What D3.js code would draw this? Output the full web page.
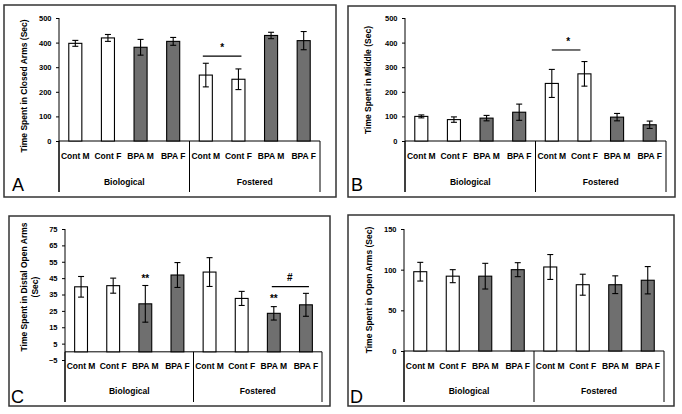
<!DOCTYPE html>
<html><head><meta charset="utf-8">
<script src="https://cdn.jsdelivr.net/npm/d3@7/dist/d3.min.js"></script>
<style>
html,body{margin:0;padding:0;background:#fff;}
svg{display:block;font-family:"Liberation Sans",Arial,sans-serif;}
</style></head>
<body>
<svg id="chart" width="682" height="414"></svg>
<script>
// ---------- data ----------
const categories = ["Cont M","Cont F","BPA M","BPA F","Cont M","Cont F","BPA M","BPA F"];
const groups = ["Biological","Fostered"];
const treatment = ["Cont","Cont","BPA","BPA","Cont","Cont","BPA","BPA"];

const closedArms    = [397, 419, 381, 405, 268, 251, 429, 408];
const closedArmsErr = [12, 14, 32, 16, 48, 42, 13, 37];
const closedTicks   = [0, 100, 200, 300, 400, 500];

const middle    = [100, 87, 93, 117, 234, 273, 97, 66];
const middleErr = [6, 11, 11, 33, 57, 50, 15, 15];
const middleTicks = [0, 100, 200, 300, 400, 500];

const distalOpen    = [39.7, 40.4, 29.3, 46.9, 48.7, 32.6, 23.5, 28.7];
const distalOpenErr = [6.3, 4.6, 11.2, 7.6, 8.8, 4.3, 4.1, 7.0];
const distalTicks   = [-5, 5, 15, 25, 35, 45, 55, 65, 75];

const openArms    = [97.5, 92, 92, 100, 103.3, 81.5, 81.5, 87];
const openArmsErr = [11.5, 8, 15.8, 8.6, 15.3, 12.9, 10.9, 16.8];
const openTicks   = [0, 50, 100, 150];

// ---------- drawing ----------
const svg = d3.select("#chart");

function panel(cfg) {
  const g = svg.append("g");
  g.append("rect").attr("x", cfg.box[0]).attr("y", cfg.box[1])
    .attr("width", cfg.box[2] - cfg.box[0]).attr("height", cfg.box[3] - cfg.box[1])
    .attr("fill", "none").attr("stroke", "#333").attr("stroke-width", 1.5);

  const x = d3.scaleBand().domain(d3.range(categories.length))
    .range([cfg.ax, cfg.right]).paddingInner(0.6).paddingOuter(0.3);
  const y = d3.scaleLinear().domain(cfg.domain).range([cfg.ybot, cfg.ytop]);
  const y0 = y(0);
  const cx = i => x(i) + x.bandwidth() / 2;

  const yAxis = d3.axisLeft(y).tickValues(cfg.ticks).tickSize(3).tickPadding(4.5);
  const ya = g.append("g").attr("transform", `translate(${cfg.ax},0)`).call(yAxis);
  ya.select(".domain").attr("stroke", "#000").attr("d", `M0,${cfg.ytop}V${cfg.ybot}`);
  ya.selectAll(".tick line").attr("stroke", "#000");
  ya.selectAll(".tick text").attr("fill", "#000").style("font-size", "7.5px").style("font-weight", "bold").style("font-family", "'Liberation Sans',Arial,sans-serif");

  g.append("line").attr("x1", cfg.ax).attr("x2", cfg.right).attr("y1", y0).attr("y2", y0).attr("stroke", "#000");
  const mid = (x(3) + x.bandwidth() + x(4)) / 2;
  [cfg.ax, mid, cfg.right].forEach(xx => {
    g.append("line").attr("x1", xx).attr("x2", xx).attr("y1", Math.min(y0, cfg.ybot)).attr("y2", cfg.sepBottom).attr("stroke", "#000");
  });
  g.append("line").attr("x1", cfg.ax).attr("x2", cfg.ax).attr("y1", cfg.ybot).attr("y2", cfg.sepBottom).attr("stroke", "#000");

  g.selectAll(".bar").data(cfg.values).join("rect")
    .attr("x", (d, i) => x(i)).attr("width", x.bandwidth())
    .attr("y", d => y(d)).attr("height", d => y0 - y(d))
    .attr("fill", (d, i) => treatment[i] === "BPA" ? "#6f6f6f" : "#fff")
    .attr("stroke", "#000").attr("stroke-width", 1.1);

  const eb = g.selectAll(".err").data(cfg.values).join("g");
  eb.append("line").attr("x1", (d, i) => cx(i)).attr("x2", (d, i) => cx(i))
    .attr("y1", (d, i) => y(d - cfg.errs[i])).attr("y2", (d, i) => y(d + cfg.errs[i])).attr("stroke", "#000").attr("stroke-width", 1.1);
  [1, -1].forEach(s => {
    eb.append("line").attr("x1", (d, i) => cx(i) - 3).attr("x2", (d, i) => cx(i) + 3)
      .attr("y1", (d, i) => y(d + s * cfg.errs[i])).attr("y2", (d, i) => y(d + s * cfg.errs[i])).attr("stroke", "#000").attr("stroke-width", 1.1);
  });

  g.selectAll(".cat").data(categories).join("text")
    .attr("x", (d, i) => cx(i)).attr("y", cfg.catY)
    .attr("text-anchor", "middle").style("font-size", "8.5px").style("font-weight", "bold").text(d => d);
  g.selectAll(".grp").data(groups).join("text")
    .attr("x", (d, i) => i === 0 ? (cfg.ax + mid) / 2 : (mid + cfg.right) / 2).attr("y", cfg.grpY)
    .attr("text-anchor", "middle").style("font-size", "8.5px").style("font-weight", "bold").text(d => d);

  const t = g.append("text").attr("transform", `translate(${cfg.titleX},${cfg.titleY}) rotate(-90)`)
    .attr("text-anchor", "middle").style("font-size", "8.5px").style("font-weight", "bold");
  cfg.title.forEach((line, k) => t.append("tspan").attr("x", 0).attr("dy", k === 0 ? 0 : 10.5).text(line));

  g.append("text").attr("x", cfg.letterX).attr("y", cfg.letterY).style("font-size", "18px").text(cfg.letter);

  (cfg.lines || []).forEach(a => {
    g.append("line").attr("x1", cx(a.from) - a.extL).attr("x2", cx(a.to) + a.extR)
      .attr("y1", y(a.v)).attr("y2", y(a.v)).attr("stroke", "#000").attr("stroke-width", 1.1);
  });
  (cfg.marks || []).forEach(a => {
    g.append("text").attr("x", a.i !== undefined ? cx(a.i) : (cx(a.from) + cx(a.to)) / 2)
      .attr("y", y(a.v)).attr("text-anchor", "middle").style("font-size", "10px").style("font-weight", "bold").text(a.t);
  });
}

panel({ box: [4, 5, 336, 197], ax: 59, right: 320, ytop: 18, ybot: 141, domain: [0, 500], ticks: closedTicks,
  values: closedArms, errs: closedArmsErr, sepBottom: 192, catY: 159, grpY: 185,
  title: ["Time Spent in Closed Arms (Sec)"], titleX: 27, titleY: 86, letter: "A", letterX: 12, letterY: 191,
  lines: [{ from: 4, to: 5, v: 345, extL: 3, extR: 3 }], marks: [{ from: 4, to: 5, v: 365, t: "*" }] });

panel({ box: [348, 6, 675, 197], ax: 405, right: 666, ytop: 18, ybot: 141, domain: [0, 500], ticks: middleTicks,
  values: middle, errs: middleErr, sepBottom: 192, catY: 159, grpY: 185,
  title: ["Time Spent in Middle (Sec)"], titleX: 371, titleY: 80, letter: "B", letterX: 351, letterY: 191,
  lines: [{ from: 4, to: 5, v: 370, extL: 0, extR: -4 }], marks: [{ from: 4, to: 5, v: 390, t: "*" }] });

panel({ box: [9, 216, 330, 406], ax: 65, right: 322, ytop: 229, ybot: 360, domain: [-5, 75], ticks: distalTicks,
  values: distalOpen, errs: distalOpenErr, sepBottom: 402, catY: 369, grpY: 394,
  title: ["Time Spent in Distal Open Arms", "(Sec)"], titleX: 27, titleY: 287, letter: "C", letterX: 11, letterY: 403,
  lines: [{ from: 6, to: 7, extL: 2, extR: 3, v: 39.8 }],
  marks: [{ i: 2, v: 42.5, t: "**" }, { i: 6, v: 30.6, t: "**" }, { from: 6, to: 7, v: 43.5, t: "#" }] });

panel({ box: [348, 215, 674, 406], ax: 404, right: 664, ytop: 229, ybot: 351, domain: [0, 150], ticks: openTicks,
  values: openArms, errs: openArmsErr, sepBottom: 402, catY: 369, grpY: 394,
  title: ["Time Spent in Open Arms (Sec)"], titleX: 372, titleY: 290, letter: "D", letterX: 350, letterY: 403 });
</script>
</body></html>
